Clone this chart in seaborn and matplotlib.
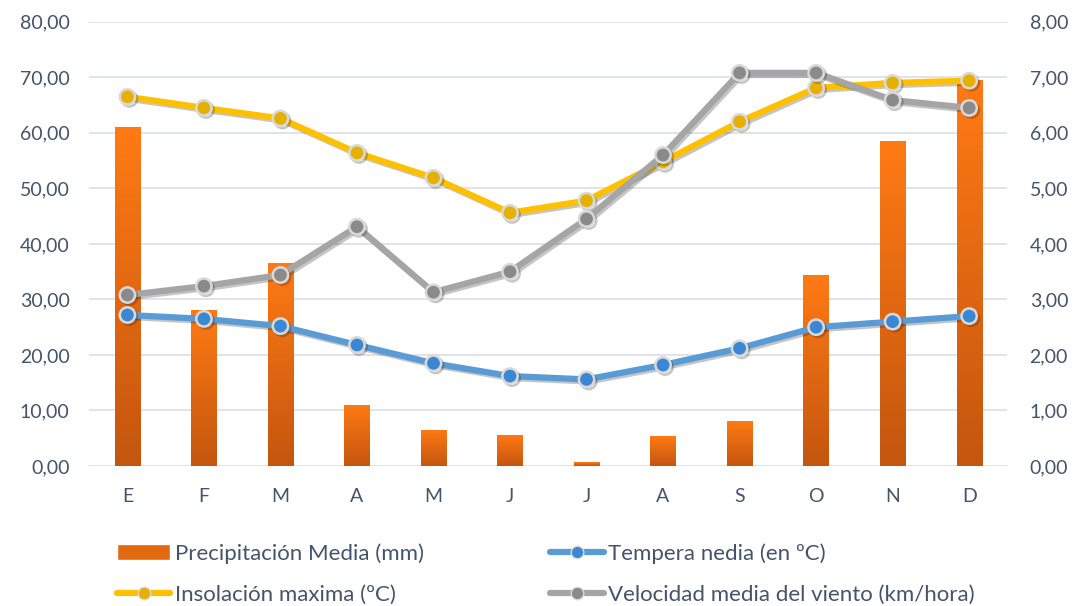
import numpy as np
import pandas as pd
import matplotlib
matplotlib.use("Agg")
import matplotlib.pyplot as plt
import matplotlib.patheffects as pe
from matplotlib.lines import Line2D
from matplotlib.patches import Patch
from matplotlib.colors import LinearSegmentedColormap
import seaborn as sns

# Data
months = ["E", "F", "M", "A", "M", "J", "J", "A", "S", "O", "N", "D"]
precip = [61.1, 28.1, 36.6, 11.0, 6.5, 5.6, 0.7, 5.4, 8.1, 34.4, 58.6, 69.5]
temp = [27.2, 26.5, 25.2, 21.8, 18.5, 16.2, 15.6, 18.2, 21.2, 25.0, 26.0, 27.0]
insol = [66.5, 64.5, 62.6, 56.4, 51.9, 45.6, 47.8, 54.8, 62.0, 68.1, 69.0, 69.4]
wind = [3.08, 3.24, 3.44, 4.31, 3.13, 3.50, 4.45, 5.60, 7.08, 7.08, 6.59, 6.45]

df = pd.DataFrame({"idx": range(len(months)), "precip": precip, "temp": temp,
                   "insol": insol, "wind": wind})

sns.set_theme(style="white")
plt.rcParams["font.family"] = ["Lato", "DejaVu Sans"]
text_col = "#44546A"
grid_col = "#DDE1E8"

fig = plt.figure(figsize=(10.74, 6.06), dpi=100)
ax = fig.add_axes([0.083, 0.231, 0.855, 0.733])
ax2 = ax.twinx()

# Bars (precipitation) with a vertical orange gradient
sns.barplot(data=df, x="idx", y="precip", color="#F07016", width=0.33,
            ax=ax, zorder=2)
cmap = LinearSegmentedColormap.from_list("org", ["#C4560F", "#FF7A14"])
grad = np.linspace(0, 1, 256).reshape(-1, 1)
for p in ax.patches:
    x0, y0 = p.get_x(), p.get_y()
    w, h = p.get_width(), p.get_height()
    p.set_facecolor("none")
    p.set_edgecolor("none")
    im = ax.imshow(grad, cmap=cmap, aspect="auto", origin="lower",
                   extent=[x0, x0 + w, y0, y0 + h], zorder=2)
    im.set_clip_path(p)

shadow = [pe.SimpleLineShadow(offset=(1.5, -1.5), alpha=0.25), pe.Normal()]

def draw_line(axis, col, color, face):
    sns.lineplot(data=df, x="idx", y=col, ax=axis, color=color, lw=4.5,
                 marker="o", markersize=11, markerfacecolor=face,
                 markeredgecolor="#D9D9D9", markeredgewidth=1.8,
                 path_effects=shadow, zorder=5)

draw_line(ax, "temp", "#5B9BD5", "#3A88D4")
draw_line(ax, "insol", "#FFC000", "#E6B000")
draw_line(ax2, "wind", "#A5A5A5", "#8A8A8A")

ax.set_xlim(-0.5, 11.5)
ax.set_ylim(0, 80)
ax2.set_ylim(0, 8)
ax.set_yticks(np.arange(0, 81, 10))
ax2.set_yticks(np.arange(0, 9, 1))
ax.set_yticklabels([f"{v:.2f}".replace(".", ",") for v in np.arange(0, 81, 10)])
ax2.set_yticklabels([f"{v:.2f}".replace(".", ",") for v in np.arange(0, 9, 1)])
ax.set_xticks(range(len(months)))
ax.set_xticklabels(months)
ax.set_xlabel("")
ax.set_ylabel("")
ax2.set_ylabel("")

for a in (ax, ax2):
    a.tick_params(length=0, labelsize=14, labelcolor=text_col)
    for s in a.spines.values():
        s.set_visible(False)
ax.tick_params(axis="y", pad=14)
ax2.tick_params(axis="y", pad=16)
ax.tick_params(axis="x", pad=16)
ax.grid(axis="y", color=grid_col, lw=1.3, zorder=0)
ax.set_axisbelow(True)

def line_handle(color, face, label):
    return Line2D([], [], color=color, lw=4.5, marker="o", markersize=9,
                  markerfacecolor=face, markeredgecolor="#D9D9D9",
                  label=label)

# legend fills column-wise: column 1 = precip, insolation; column 2 = temp, wind
handles = [
    Patch(facecolor="#E4680E", label="Precipitación Media (mm)"),
    line_handle("#FFC000", "#E6B000", "Insolación maxima (ºC)"),
    line_handle("#5B9BD5", "#3A88D4", "Tempera nedia (en ºC)"),
    line_handle("#A5A5A5", "#8A8A8A", "Velocidad media del viento (km/hora)"),
]
fig.legend(handles=handles, loc="lower left",
           bbox_to_anchor=(117 / 1074, 0.002), borderaxespad=0, borderpad=0,
           ncol=2, frameon=False, fontsize=16, labelcolor=text_col,
           columnspacing=5.7, handlelength=2.4, handletextpad=0.2,
           labelspacing=0.95)

fig.savefig("out.png", dpi=100)
